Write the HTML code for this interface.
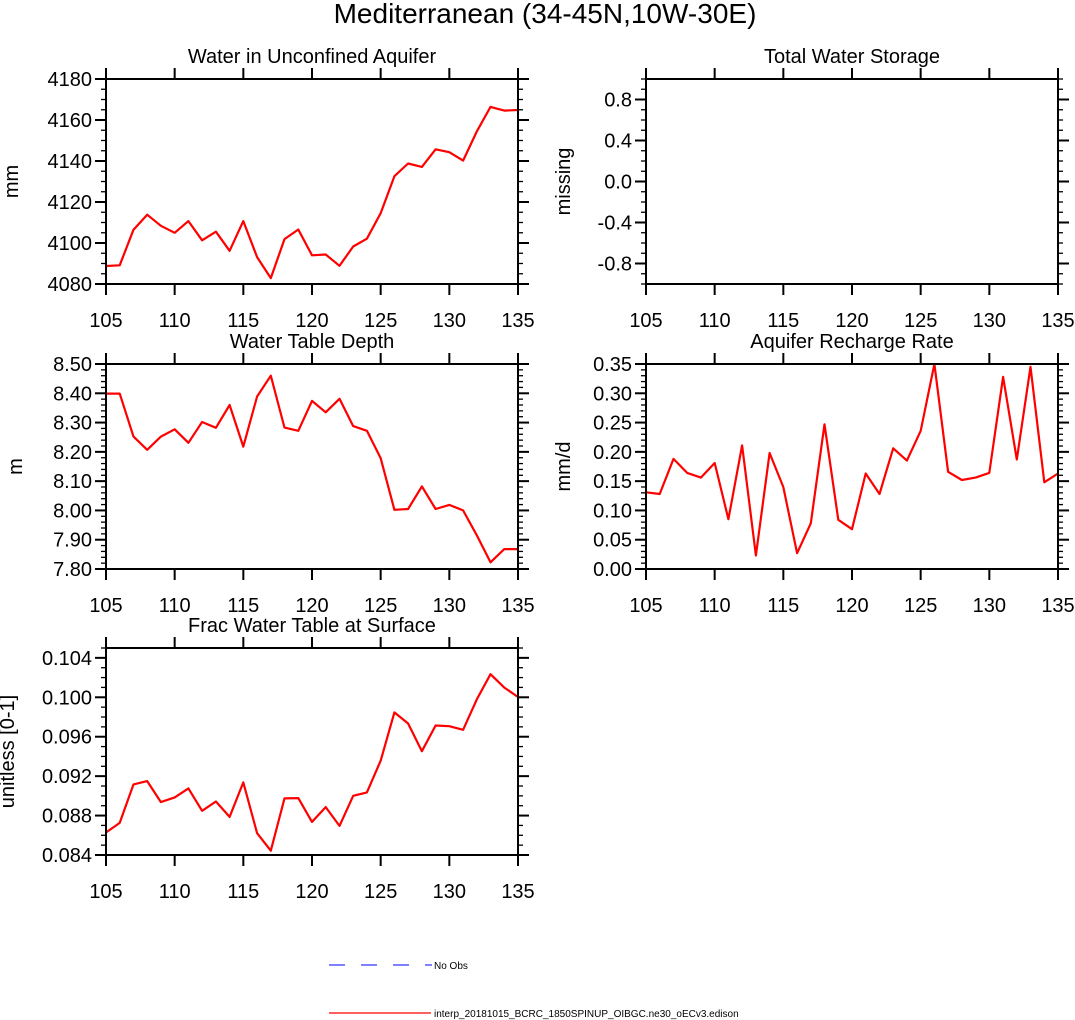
<!DOCTYPE html>
<html><head><meta charset="utf-8"><style>
body{margin:0;background:#fff;}
svg{display:block;font-family:"Liberation Sans",sans-serif;}
</style></head><body>
<svg id="chart" width="1075" height="1020" viewBox="0 0 1075 1020">
<text x="545" y="23" font-size="28" text-anchor="middle">Mediterranean (34-45N,10W-30E)</text>
<g>
<line x1="329" y1="965" x2="432" y2="965" stroke="#3333ff" stroke-width="1.2" stroke-dasharray="16,16"/>
<text x="434" y="969" font-size="10">No Obs</text>
<line x1="329" y1="1013" x2="431" y2="1013" stroke="#ff0000" stroke-width="1.2"/>
<text x="434" y="1017" font-size="10">interp_20181015_BCRC_1850SPINUP_OIBGC.ne30_oECv3.edison</text>
</g>
</svg>
<script>
const years = [105,106,107,108,109,110,111,112,113,114,115,116,117,118,119,120,121,122,123,124,125,126,127,128,129,130,131,132,133,134,135];
const xTicks = [105,110,115,120,125,130,135];
const aquiferWater = [4088.8,4089.1,4106.5,4113.8,4108.4,4105,4110.7,4101.3,4105.5,4096.2,4110.7,4093.1,4082.9,4101.9,4106.6,4094,4094.4,4088.9,4098.3,4102.1,4114.6,4132.6,4138.8,4137.1,4145.7,4144.3,4140.2,4154.4,4166.4,4164.6,4164.9];
const waterTableDepth = [8.399,8.399,8.252,8.207,8.252,8.277,8.231,8.302,8.282,8.360,8.218,8.389,8.460,8.283,8.272,8.374,8.335,8.381,8.288,8.272,8.178,8.002,8.005,8.082,8.005,8.019,8.0,7.915,7.823,7.868,7.868];
const rechargeRate = [0.131,0.128,0.188,0.164,0.156,0.181,0.085,0.211,0.023,0.198,0.140,0.027,0.078,0.247,0.084,0.068,0.163,0.128,0.206,0.185,0.236,0.35,0.166,0.152,0.156,0.164,0.328,0.187,0.345,0.148,0.163];
const fracSurface = [0.08628,0.08726,0.09116,0.0915,0.08937,0.08984,0.09076,0.08848,0.08943,0.08787,0.09137,0.08621,0.08444,0.08974,0.08977,0.08736,0.08886,0.08695,0.09001,0.09035,0.09358,0.09847,0.09734,0.09453,0.09714,0.09707,0.0967,0.09979,0.10234,0.10098,0.10003];
const ticks1 = ["4080","4100","4120","4140","4160","4180"];
const ticks2 = ["-0.8","-0.4","0.0","0.4","0.8"];
const ticks3 = ["7.80","7.90","8.00","8.10","8.20","8.30","8.40","8.50"];
const ticks4 = ["0.00","0.05","0.10","0.15","0.20","0.25","0.30","0.35"];
const ticks5 = ["0.084","0.088","0.092","0.096","0.100","0.104"];

const NS="http://www.w3.org/2000/svg";
const svg=document.getElementById('chart');
function mk(tag,attrs,parent){const e=document.createElementNS(NS,tag);for(const k in attrs)e.setAttribute(k,attrs[k]);(parent||svg).appendChild(e);return e;}

function panel(p){
  const g=mk('g',{});
  
  
  const L=p.x, R=p.x+412, T=p.y, B=p.y+p.h;
  const xs=v=>L+(v-105)/30*(R-L);
  const ys=v=>B-(v-p.ymin)/(p.ymax-p.ymin)*(B-T);
  const t=mk('text',{x:(L+R)/2,y:T-16,'font-size':20,'text-anchor':'middle'},g);
  t.textContent=p.title;
  
  
  const yl=mk('text',{x:0,y:0,'font-size':20,'text-anchor':'middle',transform:`translate(${p.ylx},${(T+B)/2}) rotate(-90)`},g);
  yl.textContent=p.ylabel;
  
  
  for(let v=p.ymin;v<=p.ymax+1e-9;v+=p.minor){
    const y=ys(v);
    mk('line',{x1:L-5,x2:L,y1:y,y2:y,stroke:'#000','stroke-width':1.3},g);
    mk('line',{x1:R,x2:R+5,y1:y,y2:y,stroke:'#000','stroke-width':1.3},g);
  }
  p.ticks.forEach(s=>{
    const y=ys(parseFloat(s));
    mk('line',{x1:L-11,x2:L,y1:y,y2:y,stroke:'#000','stroke-width':2},g);
    mk('line',{x1:R,x2:R+11,y1:y,y2:y,stroke:'#000','stroke-width':2},g);
    const tx=mk('text',{x:L-14,y:y+7,'font-size':20,'text-anchor':'end'},g);
    tx.textContent=s;
    
    
  });
  xTicks.forEach(v=>{
    const x=xs(v);
    mk('line',{x1:x,x2:x,y1:B,y2:B+11,stroke:'#000','stroke-width':2},g);
    mk('line',{x1:x,x2:x,y1:T-11,y2:T,stroke:'#000','stroke-width':2},g);
    const tx=mk('text',{x:x,y:B+43,'font-size':20,'text-anchor':'middle'},g);
    tx.textContent=String(v);
    
    
  });
  if(p.data){
    const d=p.data.map((v,i)=>(i?'L':'M')+xs(years[i]).toFixed(1)+','+ys(v).toFixed(1)).join(' ');
    const path=mk('path',{d:d,fill:'none',stroke:'#ff0000','stroke-width':2.2,'stroke-linejoin':'round'},g);
    
    
  }
  const box=mk('rect',{x:L,y:T,width:R-L,height:B-T,fill:'none',stroke:'#000','stroke-width':2},g);
  
  
}
panel({name:'panel-aquifer-water',x:106,y:79,h:205,ymin:4080,ymax:4180,minor:5,ticks:ticks1,title:'Water in Unconfined Aquifer',ylabel:'mm',ylx:18,data:aquiferWater});
panel({name:'panel-total-water-storage',x:646,y:79,h:205,ymin:-1,ymax:1,minor:0.1,ticks:ticks2,title:'Total Water Storage',ylabel:'missing',ylx:570,data:null});
panel({name:'panel-water-table-depth',x:106,y:364,h:205,ymin:7.8,ymax:8.5,minor:0.02,ticks:ticks3,title:'Water Table Depth',ylabel:'m',ylx:22,data:waterTableDepth});
panel({name:'panel-recharge-rate',x:646,y:364,h:205,ymin:0,ymax:0.35,minor:0.01,ticks:ticks4,title:'Aquifer Recharge Rate',ylabel:'mm/d',ylx:570,data:rechargeRate});
panel({name:'panel-frac-water-table',x:106,y:648,h:207,ymin:0.084,ymax:0.105,minor:0.001,ticks:ticks5,title:'Frac Water Table at Surface',ylabel:'unitless [0-1]',ylx:14,data:fracSurface});
</script>
</body></html>
